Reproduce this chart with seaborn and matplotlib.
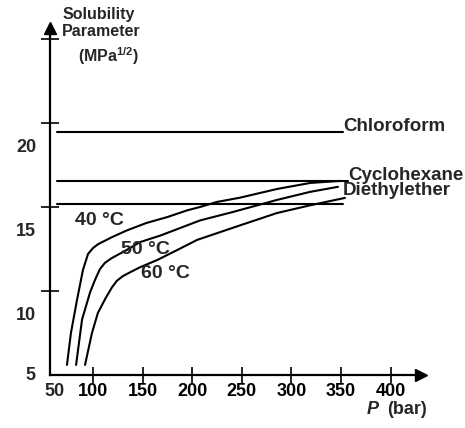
import matplotlib
matplotlib.use("Agg")
import matplotlib.pyplot as plt
import pandas as pd
import seaborn as sns

# ---- data ----
p_40 = [73.8, 77.8, 83.9, 89.9, 95, 100, 105, 119, 134, 154, 175, 195, 208, 225, 248, 285.5, 319, 349]
s_40 = [5.6, 7.5, 9.46, 11.25, 12.2, 12.55, 12.78, 13.2, 13.6, 14.05, 14.4, 14.8, 15.0, 15.3, 15.55, 16.07, 16.43, 16.55]
p_50 = [83, 89, 97, 102, 107, 112, 119, 134, 147, 168, 188, 208, 241, 285.5, 319, 347]
s_50 = [5.6, 8.3, 9.9, 10.65, 11.3, 11.67, 11.96, 12.44, 12.9, 13.3, 13.75, 14.2, 14.7, 15.42, 15.9, 16.2]
p_60 = [92, 99, 105, 113, 119, 124, 130, 137, 147, 165, 185, 205, 228, 248, 285.5, 319, 354]
s_60 = [5.6, 7.5, 8.7, 9.6, 10.2, 10.6, 10.88, 11.1, 11.4, 11.85, 12.44, 13.04, 13.5, 13.9, 14.64, 15.1, 15.54]
temps = ["40 °C", "50 °C", "60 °C"]

solvents = ["Chloroform", "Cyclohexane", "Diethylether"]
solvent_delta = [19.46, 16.52, 15.15]
solvent_p_start = [63.7, 63.7, 63.7]
solvent_p_end = [352, 357, 352]

x_ticks = [100, 150, 200, 250, 300, 350, 400]
x_tick_labels = ["100", "150", "200", "250", "300", "350", "400"]
y_ticks = [10, 15, 20, 25]
y_tick_labels = ["10", "15", "20", ""]

# ---- tidy tables ----
curve_df = pd.concat([
    pd.DataFrame({"P": p, "delta": s, "T": t})
    for p, s, t in zip([p_40, p_50, p_60], [s_40, s_50, s_60], temps)
], ignore_index=True)
solv_df = pd.concat([
    pd.DataFrame({"P": [a, b], "delta": [d, d], "solvent": n})
    for a, b, d, n in zip(solvent_p_start, solvent_p_end, solvent_delta, solvents)
], ignore_index=True)

sns.set_theme(style="white")
plt.rcParams["font.family"] = ["Liberation Sans", "DejaVu Sans"]
plt.rcParams["font.weight"] = "bold"
plt.rcParams["mathtext.fontset"] = "custom"
plt.rcParams["mathtext.rm"] = "Liberation Sans:bold"
plt.rcParams["mathtext.bf"] = "Liberation Sans:bold"

W, H = 465, 428
fig = plt.figure(figsize=(W / 100, H / 100), dpi=100)
fig.patch.set_facecolor("white")
ax = fig.add_axes([50 / W, 53 / H, 373 / W, 350 / H])
ax.set_facecolor("white")

sns.lineplot(data=curve_df, x="P", y="delta", units="T", estimator=None, sort=False,
             color="black", lw=1.5, ax=ax, legend=False)
sns.lineplot(data=solv_df, x="P", y="delta", units="solvent", estimator=None, sort=False,
             color="black", lw=1.5, ax=ax, legend=False)
for line in ax.lines:
    line.set_solid_joinstyle("round")

ax.set_xlim(56.7, 432.7)
ax.set_ylim(5, 25.83)
ax.set_xlabel("")
ax.set_ylabel("")

sns.despine(ax=ax)
for side in ["left", "bottom"]:
    ax.spines[side].set_color("black")
    ax.spines[side].set_linewidth(1.6)

ax.plot([0.995], [0], marker=">", color="black", ms=8, transform=ax.transAxes, clip_on=False)
ax.plot([0], [0.99], marker="^", color="black", ms=8, transform=ax.transAxes, clip_on=False)

ax.set_xticks(x_ticks)
ax.set_xticklabels(x_tick_labels)
ax.tick_params(axis="x", direction="inout", length=11, width=1.2, color="black",
               labelsize=13, labelcolor="black", pad=0, bottom=True)
ax.set_yticks(y_ticks)
ax.set_yticklabels([])
ax.tick_params(axis="y", direction="inout", length=13, width=1.2, color="black",
               left=True, labelleft=False)

# y tick labels, drawn below their tick marks as in the reference
for v, lab in zip(y_ticks, y_tick_labels):
    if lab:
        ax.annotate(lab, xy=(0, v), xycoords=("axes fraction", "data"),
                    xytext=(-14, -25), textcoords="offset pixels",
                    ha="right", va="center", fontsize=13, fontweight="bold")
ax.annotate("5", xy=(0, 0), xycoords="axes fraction", xytext=(-15, 0),
            textcoords="offset pixels", ha="right", va="center", fontsize=13, fontweight="bold")
ax.annotate("50", xy=(0, 0), xycoords="axes fraction", xytext=(4, -17),
            textcoords="offset pixels", ha="center", va="center", fontsize=13, fontweight="bold")

# solvent labels
solvent_label_xy = [(352, 19.52), (357, 16.62), (352, 15.7)]
for name, (x, y) in zip(solvents, solvent_label_xy):
    ax.text(x, y, name, ha="left", va="baseline", fontsize=13.5, fontweight="bold", clip_on=False)

# temperature labels
temp_label_xy = [(107, 14.17), (153, 12.44), (172.6, 11.07)]
for t, (x, y) in zip(temps, temp_label_xy):
    ax.text(x, y, t, ha="center", va="center", fontsize=14, fontweight="bold")

def fx(x):
    return x / W

def fy(y):
    return 1 - y / H

fig.text(fx(99), fy(14), "Solubility", ha="center", va="center", fontsize=11.5, fontweight="bold")
fig.text(fx(101), fy(31), "Parameter", ha="center", va="center", fontsize=11.5, fontweight="bold")
fig.text(fx(108), fy(56), r"(MPa$^{\mathbf{1/2}}$)", ha="center", va="center", fontsize=11.5, fontweight="bold")

fig.text(fx(367), fy(409), "P", ha="left", va="center", fontsize=13, fontweight="bold", style="italic")
fig.text(fx(387), fy(409), "(bar)", ha="left", va="center", fontsize=13, fontweight="bold")

fig.savefig("out.png", dpi=100, facecolor="white")
